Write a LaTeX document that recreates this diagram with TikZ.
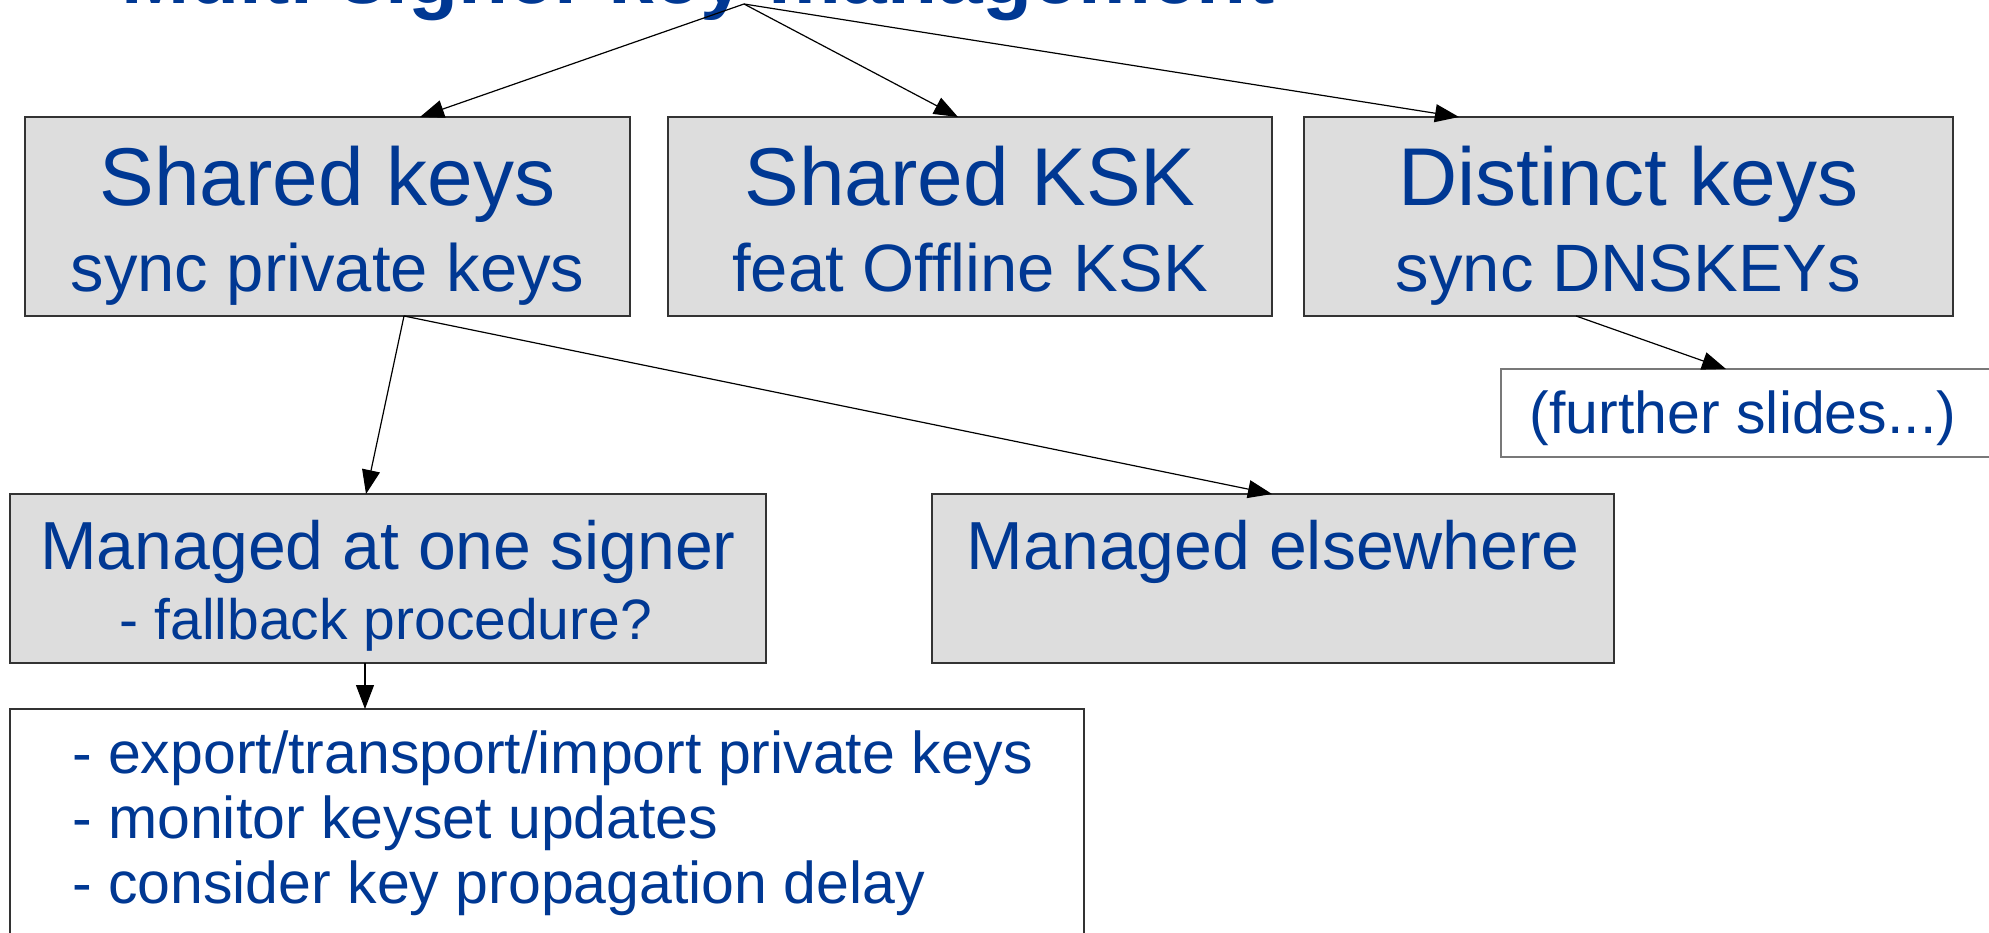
\documentclass[tikz,border=0pt]{standalone}
\usepackage{fontspec}
\setmainfont{Liberation Sans}
\usetikzlibrary{arrows.meta}
\definecolor{txtblue}{RGB}{0,56,147}
\definecolor{boxgray}{RGB}{221,221,221}
\definecolor{edgegray}{RGB}{51,51,51}
\definecolor{lightedge}{RGB}{120,120,120}
\tikzset{
  graybox/.style={draw=edgegray, fill=boxgray, line width=1.5pt, inner sep=0pt, rectangle},
  whitebox/.style={draw=edgegray, fill=white, line width=1.5pt, inner sep=0pt, rectangle},
  txt/.style={text=txtblue, inner sep=0pt, anchor=base},
  listtxt/.style={text=txtblue, inner sep=0pt, anchor=base west, font=\fontsize{59}{65}\selectfont},
  headtxt/.style={txt, font=\fontsize{82}{90}\selectfont},
  subtxt/.style={txt, font=\fontsize{67}{72}\selectfont},
  midtxt/.style={txt, font=\fontsize{68}{72}\selectfont},
  smalltxt/.style={txt, font=\fontsize{57}{62}\selectfont},
  titletxt/.style={txt, font=\bfseries\fontsize{82}{90}\selectfont},
  conn/.style={draw=black, line width=1.2pt, -{Triangle[length=24pt,width=18pt]}}
}
\begin{document}
\begin{tikzpicture}[x=1pt,y=-1pt]
\useasboundingbox (0,0) rectangle (1989,933);
\clip (0,0) rectangle (1989,933);
\fill[white] (0,0) rectangle (1989,933);

% title (cut off at the top)
\node[titletxt] (title) at (698,4) {Multi-signer key management};
\coordinate (apex) at (744,4);

% boxes
\node[graybox, minimum width=605pt, minimum height=199pt] (sk) at (327.5,216.5) {};
\node[graybox, minimum width=604pt, minimum height=199pt] (ksk) at (970,216.5) {};
\node[graybox, minimum width=649pt, minimum height=199pt] (dk) at (1628.5,216.5) {};
\node[whitebox, draw=lightedge, minimum width=509pt, minimum height=88pt] (fs) at (1755.5,413) {};
\node[graybox, minimum width=756pt, minimum height=169pt] (mos) at (388,578.5) {};
\node[graybox, minimum width=682pt, minimum height=169pt] (me) at (1273,578.5) {};
\node[whitebox, minimum width=1074pt, minimum height=251pt] (bl) at (547,834.5) {};

% texts
\node[headtxt] (sk1) at (327.5,206) {Shared keys};
\node[subtxt] (sk2) at (327.5,292) {sync private keys};
\node[headtxt] (ksk1) at (970,206) {Shared KSK};
\node[subtxt] (ksk2) at (970,292) {feat Offline KSK};
\node[headtxt] (dk1) at (1628.5,206) {Distinct keys};
\node[subtxt] (dk2) at (1628.5,292) {sync DNSKEYs};
\node[txt, font=\fontsize{59}{64}\selectfont] (fs1) at (1743,433) {(further slides...)};
\node[midtxt] (mos1) at (388,569) {Managed at one signer};
\node[smalltxt] (mos2) at (386,639) {- fallback procedure?};
\node[midtxt] (me1) at (1273,569) {Managed elsewhere};
\node[listtxt] (bl1) at (72,773) {- export/transport/import private keys};
\node[listtxt] (bl2) at (72,838) {- monitor keyset updates};
\node[listtxt] (bl3) at (72,903) {- consider key propagation delay};

% connector end points on the box borders
\coordinate (sk-in) at (420,117);
\coordinate (ksk-in) at (958,117);
\coordinate (dk-in) at (1459,117);
\coordinate (sk-out) at (404,316);
\coordinate (mos-in) at (366,494);
\coordinate (me-in) at (1272,494);
\coordinate (dk-out) at (1576,316);
\coordinate (fs-in) at (1726,369);
\coordinate (mos-out) at (365,663);
\coordinate (bl-in) at (365,709);

% connectors
\draw[conn] (apex) -- (sk-in);
\draw[conn] (apex) -- (ksk-in);
\draw[conn] (apex) -- (dk-in);
\draw[conn] (sk-out) -- (mos-in);
\draw[conn] (sk-out) -- (me-in);
\draw[conn] (dk-out) -- (fs-in);
\draw[conn] (mos-out) -- (bl-in);
\end{tikzpicture}
\end{document}
